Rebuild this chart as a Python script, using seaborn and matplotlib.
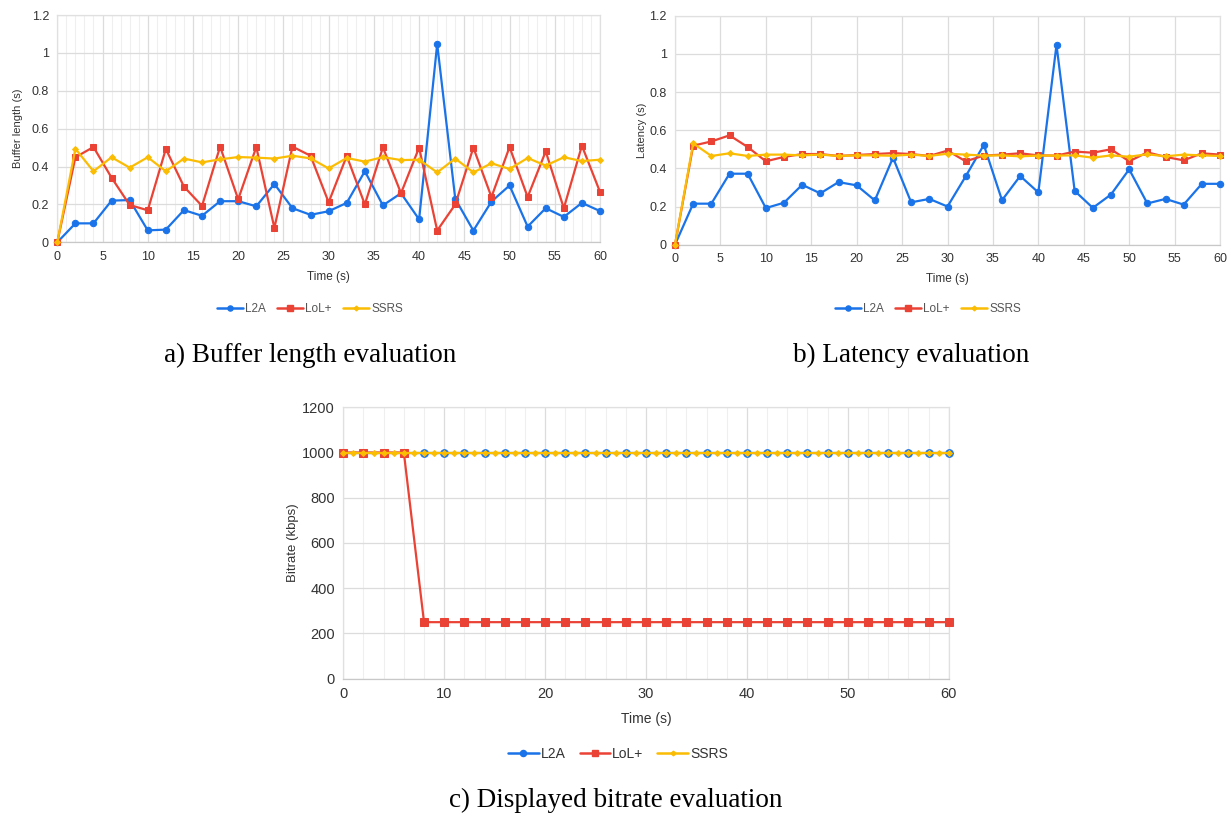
import numpy as np
import pandas as pd
import matplotlib
matplotlib.use("Agg")
import matplotlib.pyplot as plt
from matplotlib.ticker import MultipleLocator, FuncFormatter
from matplotlib.lines import Line2D
import seaborn as sns

sns.set_theme(style="white")
plt.rcParams['font.family'] = ['Liberation Sans', 'DejaVu Sans']

# ---------------- data ----------------
time_2s = list(range(0, 61, 2))
time_1s = list(range(0, 61, 1))

buffer_l2a = [0, 0.10, 0.10, 0.22, 0.223, 0.063, 0.067, 0.17, 0.14, 0.217, 0.217,
              0.19, 0.308, 0.18, 0.145, 0.164, 0.208, 0.375, 0.195, 0.259, 0.121,
              1.047, 0.229, 0.062, 0.215, 0.30, 0.083, 0.18, 0.134, 0.208, 0.165]
buffer_lol = [0, 0.449, 0.503, 0.341, 0.197, 0.169, 0.493, 0.294, 0.192, 0.505, 0.227,
              0.503, 0.076, 0.505, 0.457, 0.211, 0.456, 0.20, 0.501, 0.259, 0.50,
              0.062, 0.20, 0.50, 0.239, 0.503, 0.239, 0.48, 0.18, 0.51, 0.266]
buffer_ssrs = [0, 0.494, 0.375, 0.449, 0.394, 0.449, 0.375, 0.442, 0.422, 0.438, 0.45,
               0.447, 0.442, 0.457, 0.443, 0.39, 0.445, 0.426, 0.45, 0.434, 0.436,
               0.369, 0.442, 0.369, 0.417, 0.387, 0.445, 0.405, 0.449, 0.429, 0.436]

latency_l2a = [0, 0.215, 0.215, 0.372, 0.372, 0.192, 0.22, 0.314, 0.269, 0.328, 0.311,
               0.232, 0.456, 0.222, 0.24, 0.20, 0.358, 0.523, 0.233, 0.36, 0.274,
               1.047, 0.282, 0.193, 0.263, 0.395, 0.216, 0.24, 0.21, 0.319, 0.319]
latency_lol = [0, 0.519, 0.541, 0.573, 0.512, 0.437, 0.46, 0.475, 0.475, 0.465, 0.47,
               0.475, 0.48, 0.475, 0.465, 0.493, 0.437, 0.467, 0.472, 0.479, 0.468,
               0.467, 0.488, 0.482, 0.50, 0.437, 0.484, 0.46, 0.442, 0.479, 0.472]
latency_ssrs = [0, 0.531, 0.465, 0.479, 0.465, 0.472, 0.472, 0.468, 0.472, 0.465, 0.468,
                0.468, 0.466, 0.472, 0.465, 0.477, 0.472, 0.467, 0.468, 0.463, 0.467,
                0.467, 0.468, 0.456, 0.468, 0.461, 0.474, 0.463, 0.472, 0.468, 0.465]

bitrate_l2a = [1000] * 31
bitrate_lol = [1000, 1000, 1000, 1000] + [250] * 27
bitrate_ssrs = [1000] * 61

series_names = ["L2A", "LoL+", "SSRS"]
captions = ["a) Buffer length evaluation", "b) Latency evaluation",
            "c) Displayed bitrate evaluation"]

# ---------------- style ----------------
C_BLUE = "#1a73e8"
C_RED = "#ea4335"
C_YEL = "#fbbc04"
styles = {
    "L2A": dict(color=C_BLUE, marker="o"),
    "LoL+": dict(color=C_RED, marker="s"),
    "SSRS": dict(color=C_YEL, marker="D"),
}
ms_small = {"L2A": 4.6, "LoL+": 4.6, "SSRS": 3.0}
ms_big = {"L2A": 5.5, "LoL+": 5.5, "SSRS": 3.0}

W, H = 1231, 816
fig = plt.figure(figsize=(W / 100, H / 100), dpi=100)


def axes_px(x0, x1, ytop, ybot):
    return fig.add_axes([x0 / W, 1 - ybot / H, (x1 - x0) / W, (ybot - ytop) / H])


def style_axes(ax, ymax, ystep, xmajor, xminor, fs_tick, fs_lab, ylab, xlabpad, ylabpad):
    ax.set_xlim(0, 60)
    ax.set_ylim(0, ymax)
    ax.xaxis.set_major_locator(MultipleLocator(xmajor))
    if xminor:
        ax.xaxis.set_minor_locator(MultipleLocator(xminor))
    ax.yaxis.set_major_locator(MultipleLocator(ystep))
    ax.yaxis.set_major_formatter(FuncFormatter(lambda v, p: f"{v:g}"))
    ax.grid(which="major", color="#dcdcdc", linewidth=0.9)
    if xminor:
        ax.grid(which="minor", axis="x", color="#efefef", linewidth=0.8)
    ax.set_axisbelow(True)
    ax.tick_params(axis="both", which="both", length=0, labelsize=fs_tick,
                   labelcolor="#333333", pad=6)
    for s in ax.spines.values():
        s.set_color("#e0e0e0")
        s.set_linewidth(0.9)
    ax.spines["bottom"].set_color("#c8c8c8")
    ax.set_xlabel("Time (s)", fontsize=fs_lab, color="#333333", labelpad=xlabpad)
    ax.set_ylabel(ylab, fontsize=fs_lab - 0.5, color="#333333", labelpad=ylabpad)
    ax.set_facecolor("white")


def draw(ax, xs, ys, name, ms, lw=1.6):
    st = styles[name]
    sns.lineplot(x=xs, y=ys, ax=ax, color=st["color"], marker=st["marker"],
                 markersize=ms[name], markeredgecolor=st["color"],
                 linewidth=lw, legend=False, clip_on=False, zorder=3)


def legend_at(cx, cy, fs, tcolor, ms):
    handles = [Line2D([0], [0], color=styles[n]["color"], marker=styles[n]["marker"],
                      markersize=ms[n] * 0.8, linewidth=1.8) for n in series_names]
    fig.legend(handles, series_names, loc="center", bbox_to_anchor=(cx / W, 1 - cy / H),
               ncol=3, frameon=False, fontsize=fs, handlelength=2.2, handletextpad=0.15,
               columnspacing=1.0, labelcolor=tcolor)


# ---- panel a ----
ax_a = axes_px(57.3, 600, 15, 242.3)
draw(ax_a, time_2s, buffer_l2a, "L2A", ms_small)
draw(ax_a, time_2s, buffer_lol, "LoL+", ms_small)
draw(ax_a, time_2s, buffer_ssrs, "SSRS", ms_small)
style_axes(ax_a, 1.2, 0.2, 5, 1, 9, 8.5, "Buffer length (s)", 6, 6)
legend_at(310, 309, 8.5, "#555555", ms_small)

# ---- panel b ----
ax_b = axes_px(675, 1220, 15.7, 244.7)
draw(ax_b, time_2s, latency_l2a, "L2A", ms_small)
draw(ax_b, time_2s, latency_lol, "LoL+", ms_small)
draw(ax_b, time_2s, latency_ssrs, "SSRS", ms_small)
style_axes(ax_b, 1.2, 0.2, 5, None, 9, 8.5, "Latency (s)", 6, 2)
legend_at(928, 309, 8.5, "#555555", ms_small)

# ---- panel c ----
ax_c = axes_px(343.3, 948.7, 407.3, 678.7)
draw(ax_c, time_2s, bitrate_l2a, "L2A", ms_big)
draw(ax_c, time_2s, bitrate_lol, "LoL+", ms_big)
draw(ax_c, time_1s, bitrate_ssrs, "SSRS", ms_big)
style_axes(ax_c, 1200, 200, 10, 2, 10.5, 10, "Bitrate (kbps)", 8, 2)
legend_at(618, 754, 10, "#333333", ms_big)

# ---- captions ----
cap_font = ["Liberation Serif", "DejaVu Serif"]
fig.text(310 / W, 1 - 355 / H, captions[0], ha="center", va="center",
         fontsize=19.5, family=cap_font, color="black")
fig.text(911 / W, 1 - 355 / H, captions[1], ha="center", va="center",
         fontsize=19.5, family=cap_font, color="black")
fig.text(616 / W, 1 - 800 / H, captions[2], ha="center", va="center",
         fontsize=19.5, family=cap_font, color="black")

fig.savefig("out.png", dpi=100, facecolor="white")
